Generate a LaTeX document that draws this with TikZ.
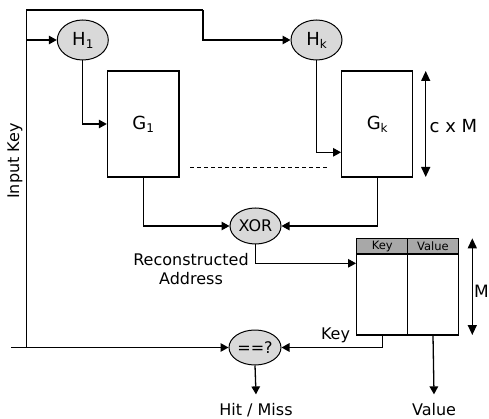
\documentclass[tikz,border=0pt]{standalone}
\usepackage{fontspec}
\setmainfont{DejaVu Sans}
\usetikzlibrary{arrows.meta,shapes.geometric}
\definecolor{hashgray}{HTML}{D9D9D9}
\definecolor{hdrgray}{HTML}{A8A8A8}
\newcommand\subx[1]{\raisebox{-0.3ex}{\fontsize{12}{12}\selectfont #1}}
\begin{document}
\begin{tikzpicture}[x=1pt,y=-1pt,line width=1.3pt,
  arr/.style={-{Triangle[length=8pt,width=8.5pt]}},
  dbl/.style={{Triangle[length=10pt,width=9pt]}-{Triangle[length=10pt,width=9pt]}},
  hash/.style={ellipse,draw,line width=1pt,fill=hashgray,minimum width=51pt,minimum height=40pt,inner sep=0pt,font=\fontsize{18}{20}\selectfont},
  op/.style={ellipse,draw,line width=1pt,fill=hashgray,minimum width=51pt,minimum height=36pt,inner sep=0pt,font=\fontsize{16}{18}\selectfont},
  gbox/.style={draw,minimum width=71.5pt,minimum height=106pt,inner sep=0pt,font=\fontsize{18}{20}\selectfont},
  hdr/.style={draw,fill=hdrgray,minimum height=15.7pt,inner sep=0pt,font=\fontsize{11.5}{12}\selectfont},
  col/.style={draw,minimum height=81pt,inner sep=0pt},
  lbl/.style={font=\fontsize{16}{19}\selectfont,inner sep=0pt},
]
\useasboundingbox (0,0) rectangle (489,419);

% hash functions and tables
\node[hash] (H1) at (82.8,40) {H\subx{1}};
\node[hash] (Hk) at (316.5,40) {H\subx{k}};
\node[gbox] (G1) at (143.2,124) {G\subx{1}};
\node[gbox,minimum width=71pt] (Gk) at (377.2,124) {G\subx{k}};
\node[op] (XOR) at (255.5,226) {XOR};
\node[op,minimum width=52pt,minimum height=35pt] (eq) at (255,347.5) {==?};

% key/value table
\node[hdr,minimum width=51pt] (keyh) at (382.2,246.2) {Key};
\node[hdr,minimum width=50.6pt] (valh) at (433,246.2) {Value};
\node[col,minimum width=51pt] (keyb) at (382.2,294.5) {};
\node[col,minimum width=50.6pt] (valb) at (433,294.5) {};

% labels
\node[lbl,rotate=90] (ik) at (15,161) {Input Key};
\node[lbl,align=center] (rec) at (191,269) {Reconstructed\\Address};
\node[lbl,anchor=west,font=\fontsize{18}{20}\selectfont] (cxm) at (429,126) {c x M};
\node[lbl,anchor=west,font=\fontsize{17}{20}\selectfont] (mlbl) at (473.5,291) {M};
\node[lbl,font=\fontsize{16}{18}\selectfont] (keyl) at (335.5,335) {Key};
\node[lbl,anchor=base,inner ysep=8.5pt] (hit) at (256,415.7) {Hit / Miss};
\node[lbl,anchor=base,inner ysep=8.5pt] (val) at (434,415.7) {Value};

% coordinates
\coordinate (in0) at (11,347.5);
\coordinate (j0) at (26.7,347.5);
\coordinate (j1) at (26.7,40);
\coordinate (topr) at (203,10);
\coordinate (gkin) at (Gk.west |- 0,152.3);
\coordinate (tabin) at (keyb.west |- 0,263.3);
\coordinate (cm1) at (425.7,71);
\coordinate (cm2) at (425.7,177);
\coordinate (m1) at (472.3,238.3);
\coordinate (m2) at (472.3,335);

% connectors
\draw[arr] (in0) -- (eq.west);
\draw (j0) |- (topr);
\draw[arr] (topr) |- (Hk.west);
\draw[arr] (j1) -- (H1.west);
\draw[arr] (H1.south) |- (G1.west);
\draw[arr] (Hk.south) |- (gkin);
\draw[arr] (G1.south) |- (XOR.west);
\draw[arr] (Gk.south) |- (XOR.east);
\draw[arr] (XOR.south) |- (tabin);
\draw[arr] (keyb.south) |- (eq.east);
\draw[arr] (eq.south) -- (hit.north);
\draw[arr] (valb.south) -- (val.north);
\draw[line width=0.9pt,dash pattern=on 4pt off 3pt] (190,167) -- (326.7,167);
\draw[dbl] (cm1) -- (cm2);
\draw[dbl] (m1) -- (m2);
\end{tikzpicture}
\end{document}
